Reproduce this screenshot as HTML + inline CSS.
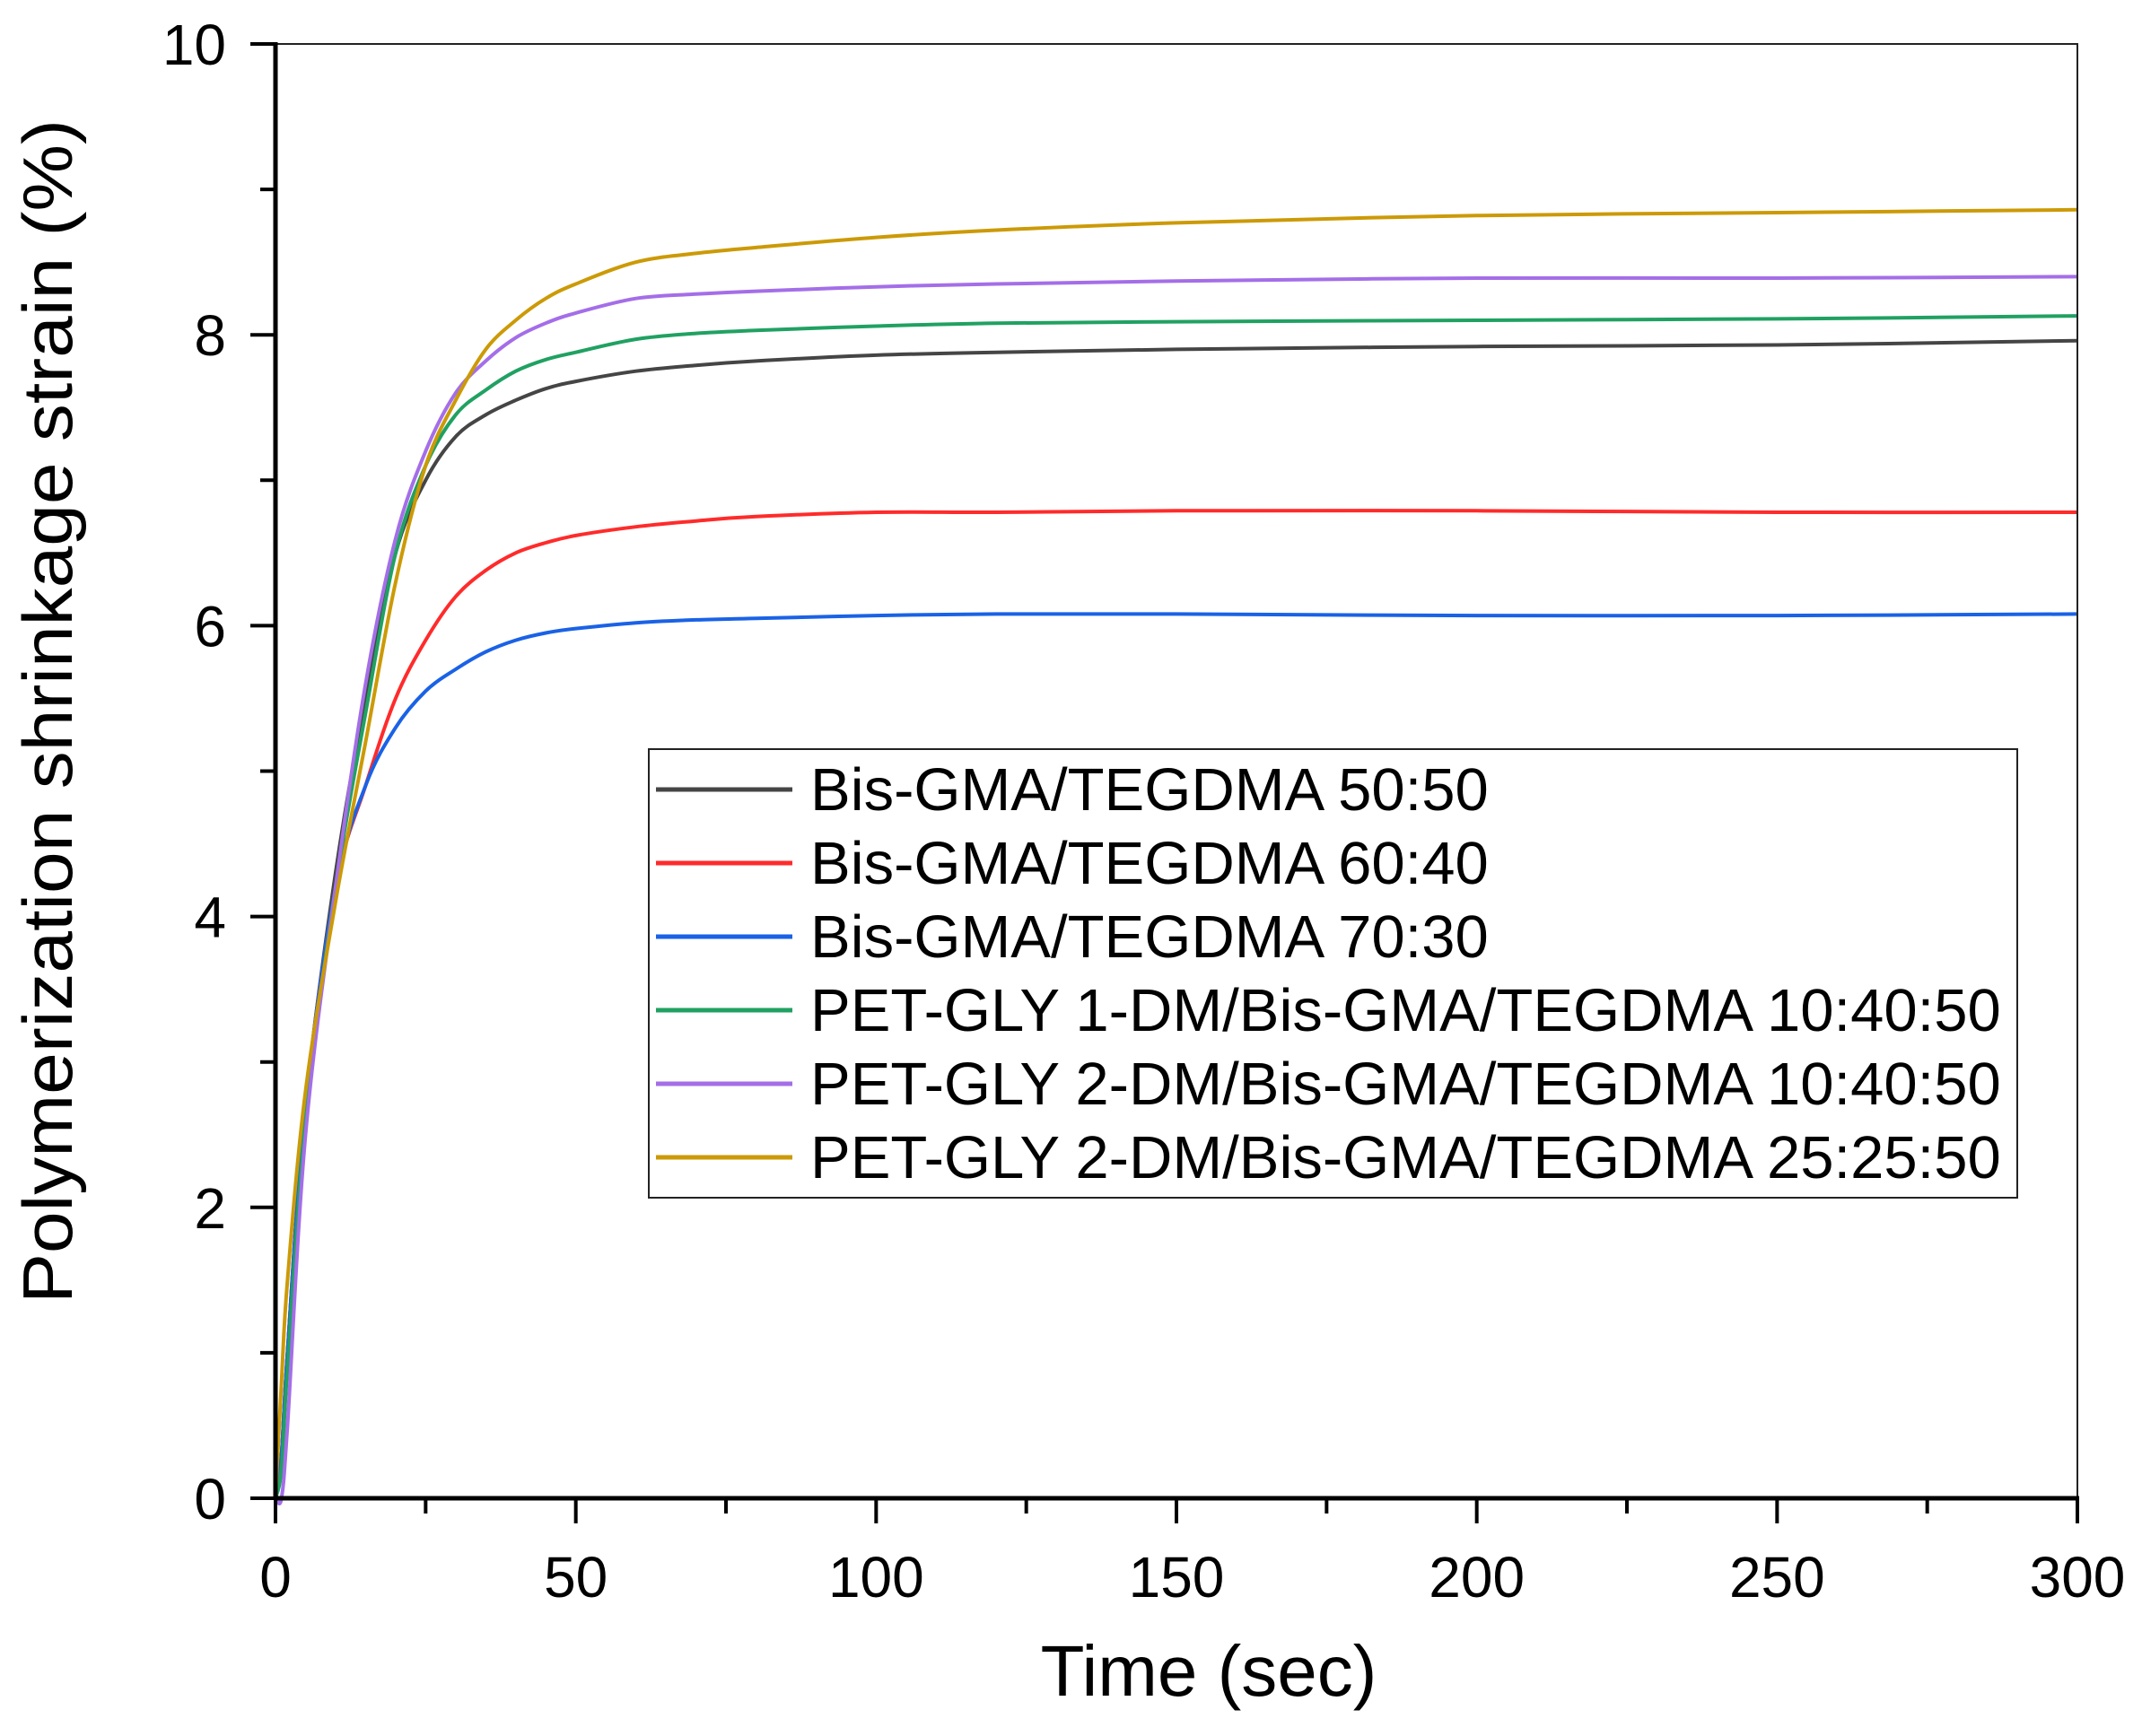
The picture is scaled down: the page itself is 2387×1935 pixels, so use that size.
<!DOCTYPE html>
<html><head><meta charset="utf-8">
<style>
html,body{margin:0;padding:0;background:#fff;}
svg{display:block;font-family:"Liberation Sans",Arial,sans-serif;}
</style></head>
<body>
<svg id="chart" width="2387" height="1935" viewBox="0 0 2387 1935" xmlns="http://www.w3.org/2000/svg">
<rect width="2387" height="1935" fill="#fff"/>
<g id="marks"></g>
<g id="axes"></g>
<g id="legend"></g>
</svg>
<script>
const times = [0,1,2,5,10,15,20,25,30,35,40,45,50,60,70,80,100,120,150,200,250,300];
const s5050 = [0,0.3,1,2.7,4.3,5.5,6.5,7.0,7.3,7.45,7.55,7.63,7.68,7.75,7.79,7.82,7.86,7.88,7.9,7.92,7.93,7.96];
const s6040 = [0,0.3,1,2.7,4.2,4.9,5.5,5.9,6.2,6.38,6.5,6.57,6.62,6.68,6.72,6.75,6.78,6.78,6.79,6.79,6.78,6.78];
const s7030 = [0,0.3,1,2.7,4.2,4.9,5.3,5.55,5.7,5.82,5.9,5.95,5.98,6.02,6.04,6.05,6.07,6.08,6.08,6.07,6.07,6.08];
const sPet1 = [0,0.2,0.9,2.6,4.2,5.4,6.5,7.1,7.45,7.62,7.75,7.83,7.88,7.97,8.01,8.03,8.06,8.08,8.09,8.1,8.11,8.13];
const sPet2 = [0,0,0.5,2.5,4.2,5.6,6.6,7.2,7.6,7.82,7.98,8.08,8.15,8.25,8.28,8.3,8.33,8.35,8.37,8.39,8.39,8.4];
const sPet25 = [0,0.8,1.5,2.8,4.1,5.2,6.3,7.1,7.55,7.9,8.1,8.25,8.35,8.5,8.56,8.6,8.67,8.72,8.77,8.82,8.84,8.86];
const seriesNames = ["Bis-GMA/TEGDMA 50:50","Bis-GMA/TEGDMA 60:40","Bis-GMA/TEGDMA 70:30","PET-GLY 1-DM/Bis-GMA/TEGDMA 10:40:50","PET-GLY 2-DM/Bis-GMA/TEGDMA 10:40:50","PET-GLY 2-DM/Bis-GMA/TEGDMA 25:25:50"];
const xTicks = [0,50,100,150,200,250,300];
const yTicks = [0,2,4,6,8,10];

const NS="http://www.w3.org/2000/svg";
const L=307,R=2315,T=49,B=1670;
const xMin=0,xMax=300,yMin=0,yMax=10;
function xs(v){return L+(v-xMin)/(xMax-xMin)*(R-L);}
function ys(v){return B-(v-yMin)/(yMax-yMin)*(B-T);}
function mk(tag,attrs,parent){const e=document.createElementNS(NS,tag);for(const k in attrs)e.setAttribute(k,attrs[k]);parent.appendChild(e);return e;}
function smoothPath(px,py){
  let d='M'+px[0].toFixed(1)+','+py[0].toFixed(1);
  const n=px.length;
  for(let i=0;i<n-1;i++){
    const x0=px[Math.max(i-1,0)],y0=py[Math.max(i-1,0)];
    const x1=px[i],y1=py[i],x2=px[i+1],y2=py[i+1];
    const x3=px[Math.min(i+2,n-1)],y3=py[Math.min(i+2,n-1)];
    const c1x=x1+(x2-x0)/6,c1y=y1+(y2-y0)/6,c2x=x2-(x3-x1)/6,c2y=y2-(y3-y1)/6;
    d+=' C'+c1x.toFixed(1)+','+c1y.toFixed(1)+' '+c2x.toFixed(1)+','+c2y.toFixed(1)+' '+x2.toFixed(1)+','+y2.toFixed(1);
  }
  return d;
}

const allSeries=[s5050,s6040,s7030,sPet1,sPet2,sPet25];
const colors=["#454545","#ff2b2b","#1a62e6","#20a162","#a46ee8","#cc9a06"];
const keys=["50-50","60-40","70-30","pet1-10-40-50","pet2-10-40-50","pet2-25-25-50"];
const marks=document.getElementById('marks');
allSeries.forEach((s,i)=>{
  const d=smoothPath(times.map(xs),s.map(ys));
  const p=mk('path',{d:d,fill:'none',stroke:colors[i],'stroke-width':4,'stroke-linejoin':'round'},marks);
  
  
});

const ax=document.getElementById('axes');
const frame=mk('rect',{x:L,y:T,width:R-L,height:B-T,fill:'none',stroke:'#222','stroke-width':2},ax);


const la=mk('line',{x1:L,y1:T-2,x2:L,y2:B+2,stroke:'#000','stroke-width':5},ax);


const ba=mk('line',{x1:L-2,y1:B,x2:R+2,y2:B,stroke:'#000','stroke-width':5},ax);



xTicks.forEach(v=>{
  const t=mk('line',{x1:xs(v),y1:B,x2:xs(v),y2:B+28,stroke:'#000','stroke-width':4},ax);
  
  
  const lb=mk('text',{x:xs(v),y:1780,'text-anchor':'middle','font-size':64,fill:'#000'},ax);
  lb.textContent=v;
  
  
});
for(let i=0;i<xTicks.length-1;i++){
  const v=(xTicks[i]+xTicks[i+1])/2;
  const t=mk('line',{x1:xs(v),y1:B,x2:xs(v),y2:B+17,stroke:'#000','stroke-width':4},ax);
  
  
}
yTicks.forEach(v=>{
  const t=mk('line',{x1:L-28,y1:ys(v),x2:L,y2:ys(v),stroke:'#000','stroke-width':4},ax);
  
  
  const lb=mk('text',{x:252,y:ys(v)+23,'text-anchor':'end','font-size':64,fill:'#000'},ax);
  lb.textContent=v;
  
  
});
for(let i=0;i<yTicks.length-1;i++){
  const v=(yTicks[i]+yTicks[i+1])/2;
  const t=mk('line',{x1:L-17,y1:ys(v),x2:L,y2:ys(v),stroke:'#000','stroke-width':4},ax);
  
  
}
const xt=mk('text',{x:1347,y:1890,'text-anchor':'middle','font-size':80,fill:'#000'},ax);
xt.textContent='Time (sec)';


const yt=mk('text',{x:0,y:0,'text-anchor':'middle','font-size':78,fill:'#000',transform:'translate(80,793) rotate(-90)',textLength:1320,lengthAdjust:'spacingAndGlyphs'},ax);
yt.textContent='Polymerization shrinkage strain (%)';



const lg=document.getElementById('legend');
const box=mk('rect',{x:723,y:835,width:1525,height:500,fill:'#fff',stroke:'#222','stroke-width':2},lg);


const rowY=[880,962,1044,1126,1208,1290];
seriesNames.forEach((n,i)=>{
  const g=mk('g',{},lg);
  
  
  mk('line',{x1:731,y1:rowY[i],x2:883,y2:rowY[i],stroke:colors[i],'stroke-width':5},g);
  const tx=mk('text',{x:903,y:rowY[i]+23,'font-size':67,fill:'#000'},g);
  tx.textContent=n;
});
</script>
</body></html>
